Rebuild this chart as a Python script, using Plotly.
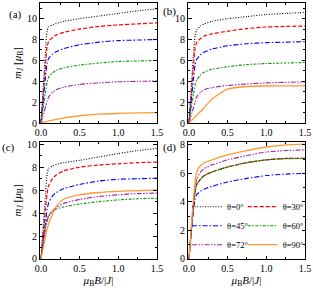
import plotly.graph_objects as go

X = [0, 0.02, 0.04, 0.06, 0.08, 0.1, 0.15, 0.2, 0.3, 0.5, 0.75, 1.0, 1.25, 1.5]
labels = ["θ=0°", "θ=30°", "θ=45°", "θ=60°", "θ=72°", "θ=90°"]

a_0 = [0, 2.3, 4.6, 6.9, 8.8, 9.2, 9.4, 9.55, 9.75, 10.0, 10.25, 10.5, 10.75, 10.95]
a_30 = [0, 1.9, 3.8, 5.7, 7.3, 7.8, 8.2, 8.45, 8.7, 9.0, 9.25, 9.4, 9.5, 9.6]
a_45 = [0, 1.5, 3.0, 4.5, 5.7, 6.2, 6.6, 6.85, 7.15, 7.5, 7.75, 7.9, 7.95, 8.0]
a_60 = [0, 1.0, 2.0, 3.0, 3.9, 4.4, 4.8, 5.05, 5.3, 5.55, 5.75, 5.9, 5.95, 6.0]
a_72 = [0, 0.5, 1.0, 1.6, 2.1, 2.5, 2.95, 3.2, 3.45, 3.7, 3.85, 3.95, 4.0, 4.02]
a_90 = [0, 0.04, 0.08, 0.12, 0.16, 0.2, 0.28, 0.36, 0.5, 0.7, 0.85, 0.92, 0.97, 1.0]

b_0 = [0, 2.2, 4.5, 6.7, 8.4, 8.9, 9.3, 9.5, 9.75, 10.0, 10.2, 10.4, 10.5, 10.6]
b_30 = [0, 1.9, 3.8, 5.6, 7.2, 7.7, 8.1, 8.35, 8.55, 8.8, 9.05, 9.2, 9.25, 9.3]
b_45 = [0, 1.5, 2.9, 4.3, 5.6, 6.1, 6.55, 6.8, 7.1, 7.4, 7.6, 7.7, 7.75, 7.8]
b_60 = [0, 1.0, 1.9, 2.8, 3.6, 4.1, 4.6, 4.9, 5.15, 5.4, 5.6, 5.7, 5.75, 5.8]
b_72 = [0, 0.5, 1.0, 1.5, 2.0, 2.5, 2.95, 3.2, 3.4, 3.6, 3.75, 3.85, 3.9, 3.95]
b_90 = [0, 0.15, 0.3, 0.45, 0.6, 0.75, 1.1, 1.5, 2.3, 3.25, 3.5, 3.55, 3.56, 3.56]

c_0 = [0, 1.9, 3.8, 5.7, 7.4, 7.9, 8.1, 8.25, 8.4, 8.6, 8.9, 9.2, 9.45, 9.65]
c_30 = [0, 1.5, 3.0, 4.4, 5.7, 6.4, 7.0, 7.35, 7.7, 8.0, 8.2, 8.3, 8.4, 8.45]
c_45 = [0, 1.1, 2.2, 3.3, 4.3, 4.9, 5.5, 5.8, 6.15, 6.5, 6.8, 6.95, 7.0, 7.05]
c_60 = [0, 1.0, 2.0, 2.9, 3.5, 3.8, 4.15, 4.35, 4.55, 4.8, 5.0, 5.15, 5.25, 5.3]
c_72 = [0, 0.9, 1.8, 2.7, 3.3, 3.7, 4.2, 4.5, 4.85, 5.2, 5.45, 5.6, 5.7, 5.75]
c_90 = [0, 0.6, 1.3, 2.0, 2.6, 3.1, 3.9, 4.6, 5.25, 5.6, 5.8, 5.9, 5.96, 6.0]

d_0 = [0, 1.3, 2.6, 3.8, 4.7, 5.2, 5.6, 5.85, 6.1, 6.45, 6.75, 6.95, 7.05, 7.05]
d_30 = [0, 1.3, 2.6, 3.8, 4.7, 5.2, 5.6, 5.85, 6.1, 6.45, 6.75, 6.95, 7.05, 7.05]
d_45 = [0, 1.2, 2.4, 3.5, 4.2, 4.5, 4.75, 4.9, 5.1, 5.4, 5.65, 5.85, 5.95, 6.0]
d_60 = [0, 1.3, 2.6, 3.8, 4.7, 5.2, 5.6, 5.85, 6.1, 6.45, 6.75, 6.95, 7.02, 7.05]
d_72 = [0, 1.4, 2.8, 4.0, 5.0, 5.6, 6.1, 6.35, 6.6, 6.95, 7.25, 7.5, 7.6, 7.65]
d_90 = [0, 1.5, 3.0, 4.3, 5.4, 6.1, 6.55, 6.75, 6.95, 7.3, 7.6, 7.85, 8.0, 8.05]

panels = [
    ("x", "y", [a_0, a_30, a_45, a_60, a_72, a_90]),
    ("x2", "y2", [b_0, b_30, b_45, b_60, b_72, b_90]),
    ("x3", "y3", [c_0, c_30, c_45, c_60, c_72, c_90]),
    ("x4", "y4", [d_0, d_30, d_45, d_60, d_72, d_90]),
]

colors = ["#000000", "#ff0000", "#0000ff", "#009900", "#a020a0", "#ff9933"]
dashes = ["1px,1.6px", "4px,2px", "5px,2px,1.5px,2px", "3px,1.5px,1.5px,1.5px",
          "5px,1.5px,1.5px,1.5px,1.5px,1.5px", "solid"]
widths = [1.1, 1.2, 1.1, 1.1, 1.1, 1.3]
legend_ids = ["legend", "legend2", "legend", "legend2", "legend", "legend2"]

fig = go.Figure()
for xa, ya, series in panels:
    for i, ys in enumerate(series):
        fig.add_trace(go.Scatter(
            x=X, y=ys, xaxis=xa, yaxis=ya, mode="lines",
            line=dict(color=colors[i], dash=dashes[i], width=widths[i], shape="spline", smoothing=0.6),
            name=labels[i], showlegend=(xa == "x4"), legend=legend_ids[i],
        ))

FONT = "Liberation Serif, Times New Roman, serif"
ax_common = dict(showline=True, linecolor="black", linewidth=1, mirror="ticks",
                 ticks="inside", ticklen=3.5, tickwidth=1, tickcolor="black",
                 showgrid=False, zeroline=False,
                 tickfont=dict(family=FONT, size=10, color="black"))
xdom_l, xdom_r = [0, 0.4415], [0.5585, 1.0]
ydom_t, ydom_b = [0.531, 1.0], [0, 0.457]
xticks = dict(tickvals=[0, 0.5, 1.0, 1.5], ticktext=["0.0", "0.5", "1.0", "1.5"],
              minor=dict(dtick=0.25, tick0=0, ticks="inside", ticklen=2, tickcolor="black"))
ymin = dict(dtick=1, ticks="inside", ticklen=2, tickcolor="black")
ytitle = dict(text="<i>m</i><sub><i>J</i></sub> [<i>μ</i><sub>B</sub>]",
              font=dict(family=FONT, size=11, color="black"), standoff=3)
xtitle = dict(text="<i>μ</i><sub>B</sub><i>B</i>/|<i>J</i>|",
              font=dict(family=FONT, size=11, color="black"), standoff=0)
xr = [-0.012, 1.5]

fig.update_layout(
    width=313, height=292, margin=dict(l=40, r=8, t=3, b=33, autoexpand=False),
    paper_bgcolor="white", plot_bgcolor="white",
    font=dict(family=FONT, size=10, color="black"),
    xaxis=dict(domain=xdom_l, anchor="y", range=xr, **xticks, **ax_common),
    yaxis=dict(domain=ydom_t, anchor="x", range=[0, 11.5], dtick=2, minor=ymin,
               title=ytitle, **ax_common),
    xaxis2=dict(domain=xdom_r, anchor="y2", range=xr, **xticks, **ax_common),
    yaxis2=dict(domain=ydom_t, anchor="x2", range=[0, 11.5], dtick=2, minor=ymin, **ax_common),
    xaxis3=dict(domain=xdom_l, anchor="y3", range=xr, title=xtitle, **xticks, **ax_common),
    yaxis3=dict(domain=ydom_b, anchor="x3", range=[0, 10.2], dtick=2, minor=ymin,
                title=ytitle, **ax_common),
    xaxis4=dict(domain=xdom_r, anchor="y4", range=xr, title=xtitle, **xticks, **ax_common),
    yaxis4=dict(domain=ydom_b, anchor="x4", range=[0, 8.2], dtick=2, minor=ymin, **ax_common),
)

leg_common = dict(orientation="v", xanchor="left", yanchor="middle", bgcolor="rgba(0,0,0,0)",
                  font=dict(family=FONT, size=8.5, color="black"), itemwidth=30,
                  tracegroupgap=0, borderwidth=0, y=0.13)
fig.update_layout(
    legend=dict(x=0.555, **leg_common),
    legend2=dict(x=0.765, **leg_common),
)

panel_labels = ["(a)", "(b)", "(c)", "(d)"]
label_pos = [(-0.125, 0.99), (0.455, 1.0), (-0.152, 0.47), (0.455, 0.47)]
for t, (px, py) in zip(panel_labels, label_pos):
    fig.add_annotation(text=t, x=px, y=py, xref="paper", yref="paper", xanchor="left",
                       yanchor="top", showarrow=False,
                       font=dict(family=FONT, size=11, color="black"))

fig.write_html("out.html", config={"displayModeBar": False},
               post_script="document.body.style.margin='0';document.body.style.padding='0';")
